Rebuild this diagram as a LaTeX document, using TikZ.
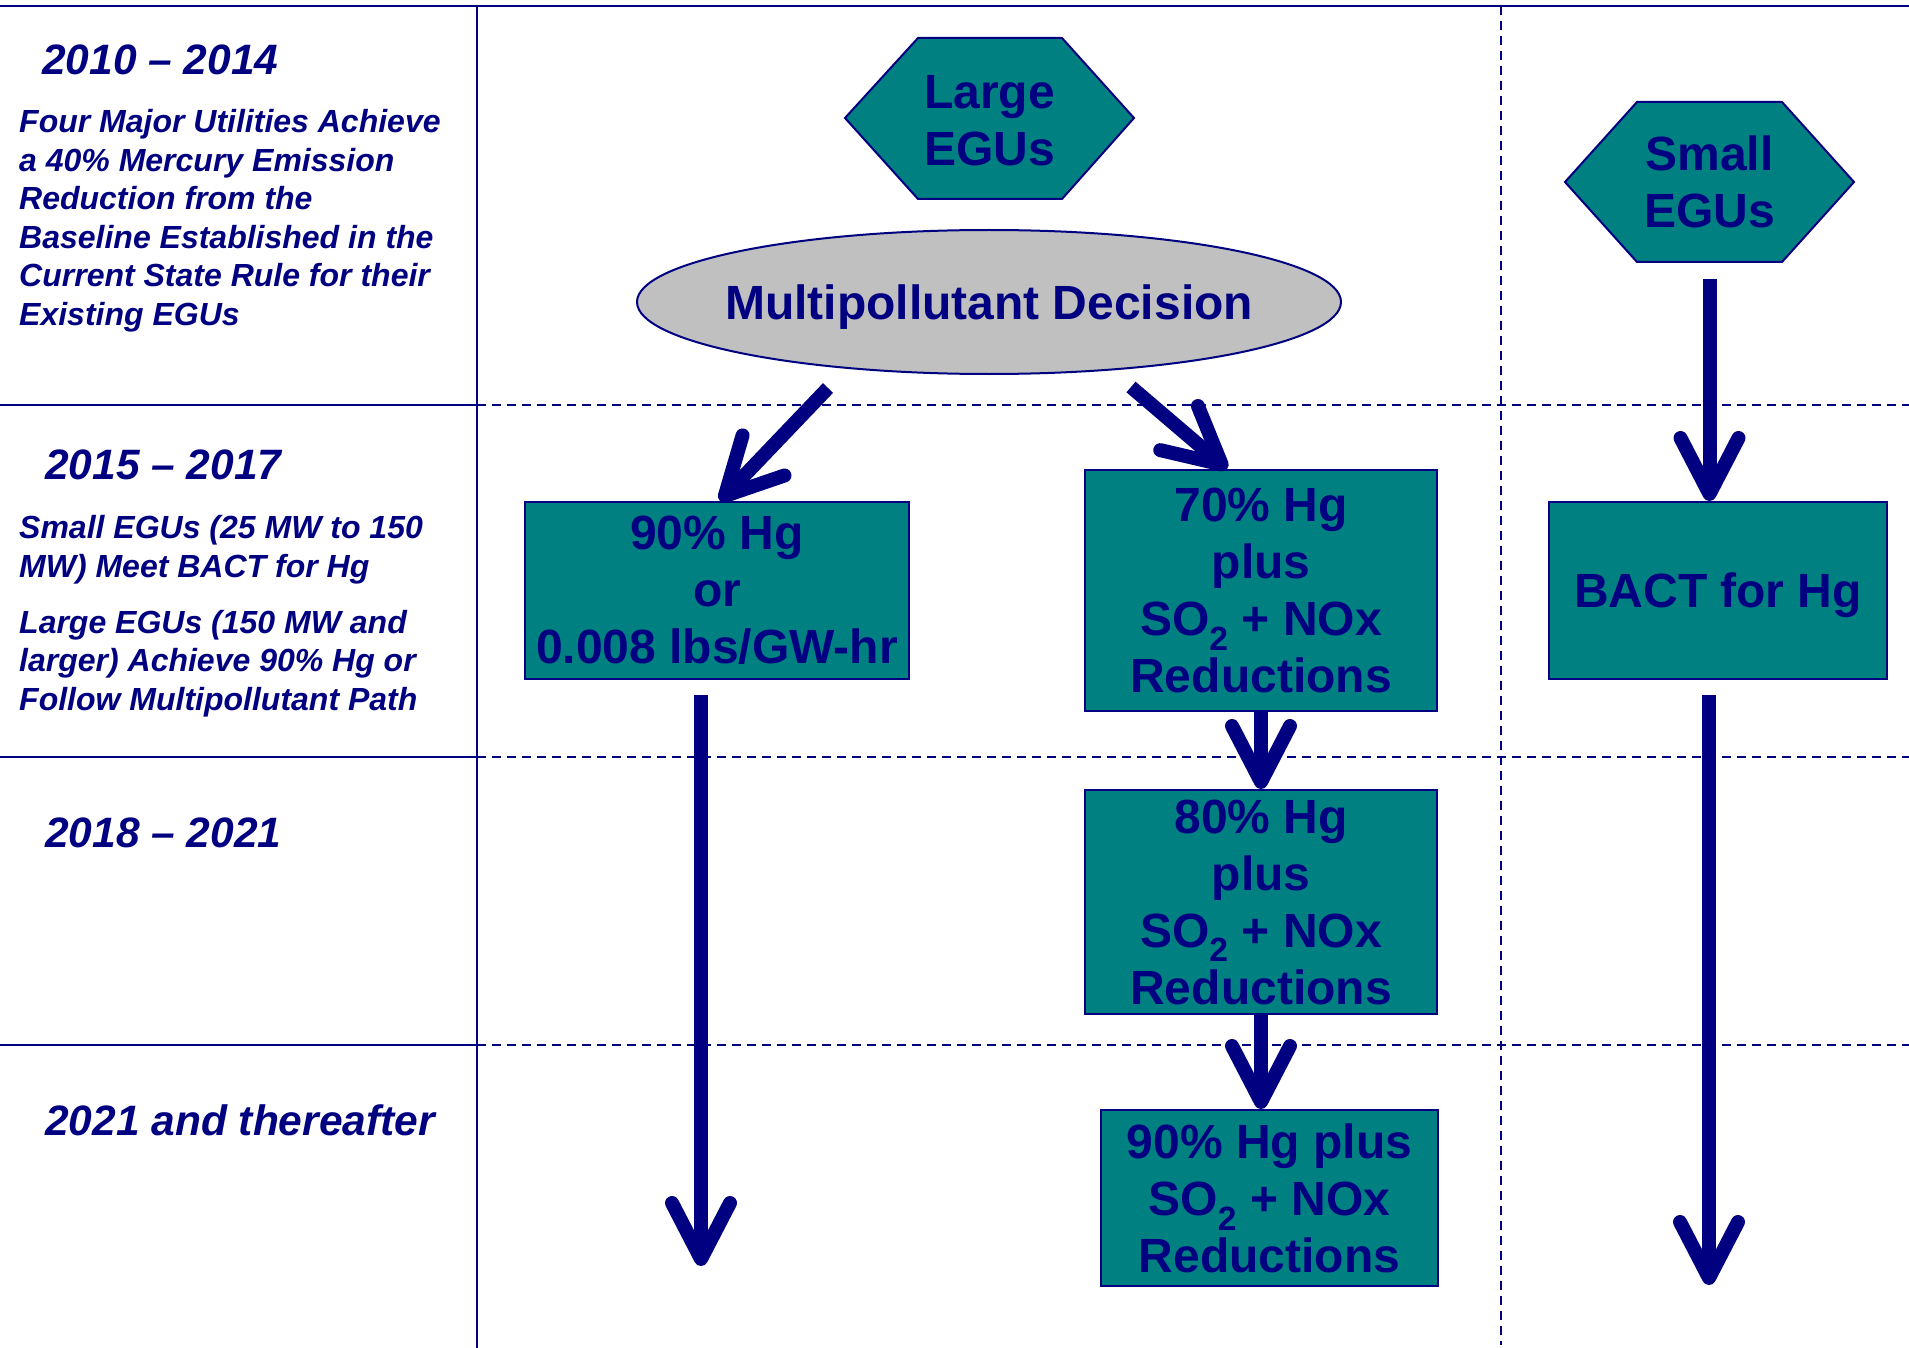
\documentclass[tikz,border=0pt]{standalone}
\usepackage{fontspec}
\setmainfont{Liberation Sans}
\usetikzlibrary{arrows.meta}
\usetikzlibrary{shapes.geometric}
\definecolor{linecol}{RGB}{0,0,128}
\definecolor{boxcol}{RGB}{0,128,128}
\definecolor{decgray}{RGB}{192,192,192}

\begin{document}
\begin{tikzpicture}[x=1pt,y=-1pt,
    rowline/.style={linecol, line width=2.5pt},
    rowdash/.style={linecol, line width=2.5pt, dash pattern=on 9pt off 6pt},
    year/.style={linecol, anchor=base west, inner sep=0pt, font=\fontsize{42.5}{50}\selectfont\bfseries\itshape},
    note/.style={linecol, anchor=base west, inner sep=0pt, align=left, font=\fontsize{32}{38.5}\selectfont\bfseries\itshape},
    hexa/.style={draw=linecol, line width=2pt, fill=boxcol},
    hextext/.style={linecol, inner sep=0pt, minimum height=161pt, align=center, font=\fontsize{48}{57}\selectfont\bfseries},
    hgbox/.style={draw=linecol, line width=2pt, fill=boxcol, text=linecol, inner sep=0pt, align=center, font=\fontsize{48}{57}\selectfont\bfseries},
    dec/.style={ellipse, draw=linecol, line width=2pt, fill=decgray, text=linecol, inner sep=0pt, text depth=0pt, minimum width=704pt, minimum height=144pt, font=\fontsize{48}{57}\selectfont\bfseries},
    flow/.style={linecol, line width=14pt, -{Straight Barb[length=56pt,width=58pt,round]}}]
     \useasboundingbox (0,0) rectangle (1909,1348);

     % time rows
     \draw[rowline] (0,6) -- (1909,6);
     \draw[rowline] (477,6) -- (477,1348);
     \draw[rowline] (0,405) -- (477,405);
     \draw[rowline] (0,757) -- (477,757);
     \draw[rowline] (0,1045) -- (477,1045);
     \draw[rowdash] (477,405) -- (1909,405);
     \draw[rowdash] (477,757) -- (1909,757);
     \draw[rowdash] (477,1045) -- (1909,1045);
     \draw[rowdash] (1501,6) -- (1501,1345);

     % base of a multi-line note is its last line
     \node[year] (y1) at (42,75) {2010 -- 2014};
     \node[note] (n1) at (19,325.5) {Four Major Utilities Achieve\\a 40\% Mercury Emission\\Reduction from the\\Baseline Established in the\\Current State Rule for their\\Existing EGUs};
     \node[year] (y2) at (45,479) {2015 -- 2017};
     \node[note] (n2) at (19,577) {Small EGUs (25 MW to 150\\MW) Meet BACT for Hg};
     \node[note] (n3) at (19,710) {Large EGUs (150 MW and\\larger) Achieve 90\% Hg or\\Follow Multipollutant Path};
     \node[year] (y3) at (45,847) {2018 -- 2021};
     \node[year] (y4) at (45,1135) {2021 and thereafter};

     % sources
     \draw[hexa] (845,118) -- (918,38) -- (1062,38) -- (1134,118) -- (1062,199) -- (918,199) -- cycle;
     \node[hextext] (large) at (989.5,120.5) {Large\\EGUs};
     \draw[hexa] (1565,182) -- (1637,102) -- (1782,102) -- (1854,182) -- (1782,262) -- (1637,262) -- cycle;
     \node[hextext] (small) at (1709.5,182) {Small\\EGUs};
     \node[dec] (dec) at (989,302) {\makebox[0pt]{Multipollutant Decision}};

     % requirements
     \node[hgbox, minimum width=384pt, minimum height=177pt] (box90) at (717,590.5) {90\% Hg\\or\\0.008 lbs/GW-hr};
     \node[hgbox, minimum width=352pt, minimum height=241pt] (box70) at (1261,590.5) {70\% Hg\\plus\\SO\textsubscript{2} + NOx\\Reductions};
     \node[hgbox, minimum width=352pt, minimum height=224pt] (box80) at (1261,902) {80\% Hg\\plus\\SO\textsubscript{2} + NOx\\Reductions};
     \node[hgbox, minimum width=337pt, minimum height=176pt] (box90p) at (1269.5,1198) {90\% Hg plus\\SO\textsubscript{2} + NOx\\Reductions};
     \node[hgbox, text depth=0pt, minimum width=338pt, minimum height=177pt] (bact) at (1718,590.5) {BACT for Hg};

     \coordinate (endL) at (701,1266);
     \coordinate (endR) at (1709,1285);

     \draw[flow] ([shift={(-161,13)}]dec.south) -- ([xshift=3pt]box90.north);
     \draw[flow] ([shift={(142,12)}]dec.south) -- ([xshift=-34pt]box70.north);
     \draw[flow] ([yshift=-16pt]small.south) -- (small.south |- bact.north);
     \draw[flow] (box70.south) -- (box80.north);
     \draw[flow] (box80.south) -- (box80.south |- box90p.north);
     \draw[flow] ([shift={(-16,15)}]box90.south) -- (endL);
     \draw[flow] ([shift={(-9,15)}]bact.south) -- (endR);
\end{tikzpicture}
\end{document}
